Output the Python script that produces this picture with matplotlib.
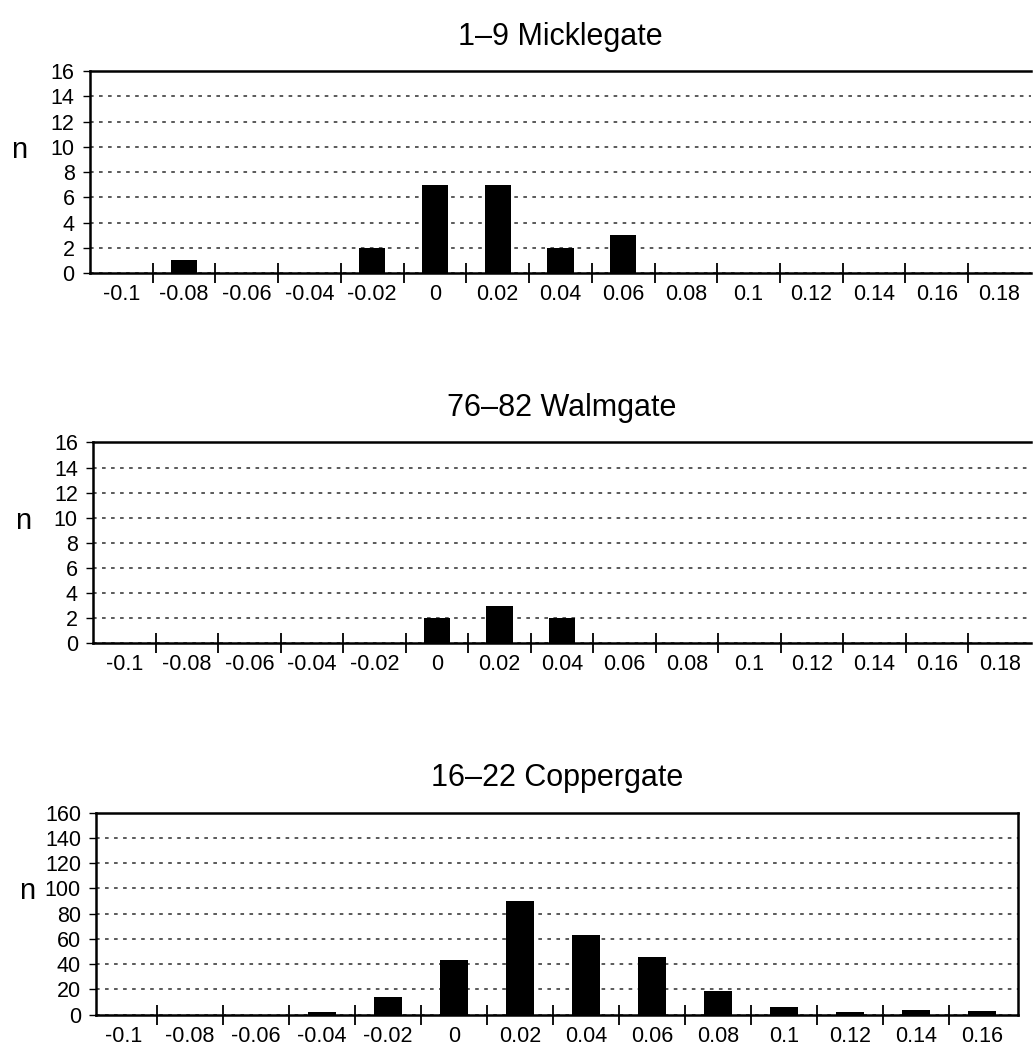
import matplotlib
matplotlib.use('Agg')
import matplotlib.pyplot as plt

plt.rcParams['font.family'] = ['Liberation Sans', 'DejaVu Sans']

# bin labels and counts for each site
bins_a = ['-0.1', '-0.08', '-0.06', '-0.04', '-0.02', '0', '0.02', '0.04',
          '0.06', '0.08', '0.1', '0.12', '0.14', '0.16', '0.18']
micklegate = [0, 1, 0, 0, 2, 7, 7, 2, 3, 0, 0, 0, 0, 0, 0]
walmgate = [0, 0, 0, 0, 0, 2, 3, 2, 0, 0, 0, 0, 0, 0, 0]

bins_b = ['-0.1', '-0.08', '-0.06', '-0.04', '-0.02', '0', '0.02', '0.04',
          '0.06', '0.08', '0.1', '0.12', '0.14', '0.16']
coppergate = [0, 0, 0, 2, 14, 43, 90, 63, 46, 19, 6, 2, 4, 3]

titles = ['1\u20139 Micklegate', '76\u201382 Walmgate', '16\u201322 Coppergate']
yticks_small = [0, 2, 4, 6, 8, 10, 12, 14, 16]
yticks_big = [0, 20, 40, 60, 80, 100, 120, 140, 160]


def draw_panel(ax, labels, counts, title, yticks, xlim, right_spine=True):
    x = range(len(labels))
    ax.bar(x, counts, width=0.42, color='black', zorder=3)
    ax.set_xlim(*xlim)
    ax.set_ylim(yticks[0], yticks[-1])

    # labels sit at bin centres, tick marks at bin edges
    ax.set_xticks(list(x))
    ax.set_xticklabels(labels, fontsize=15.5)
    ax.tick_params(axis='x', which='major', length=0, pad=8)
    ax.set_xticks([i + 0.5 for i in range(len(labels) - 1)], minor=True)
    ax.tick_params(axis='x', which='minor', direction='inout', length=14, width=1.3)

    ax.set_yticks(yticks)
    ax.set_yticklabels([str(v) for v in yticks], fontsize=15.5)
    ax.tick_params(axis='y', direction='out', length=5, width=1, pad=6)

    ax.yaxis.grid(True, linestyle=(0, (2, 3)), color='0.3', linewidth=1.3, zorder=0)
    ax.set_axisbelow(True)

    for s in ['top', 'left', 'bottom']:
        ax.spines[s].set_linewidth(1.8)
    ax.spines['right'].set_visible(right_spine)
    ax.spines['right'].set_linewidth(1.8)

    ax.text(0.5, 1.17, title, transform=ax.transAxes, ha='center', va='center', fontsize=22)
    ax.text(-0.075, 0.61, 'n', transform=ax.transAxes, ha='center', va='center', fontsize=21)


fig = plt.figure(figsize=(10.34, 10.46), dpi=100)
ax1 = fig.add_axes([0.087, 0.739, 0.910, 0.193])
ax2 = fig.add_axes([0.090, 0.385, 0.907, 0.192])
ax3 = fig.add_axes([0.093, 0.030, 0.892, 0.193])

draw_panel(ax1, bins_a, micklegate, titles[0], yticks_small, (-0.5, 14.5), right_spine=False)
draw_panel(ax2, bins_a, walmgate, titles[1], yticks_small, (-0.5, 14.5), right_spine=False)
draw_panel(ax3, bins_b, coppergate, titles[2], yticks_big, (-0.42, 13.55))

fig.savefig('out.png', dpi=100)
